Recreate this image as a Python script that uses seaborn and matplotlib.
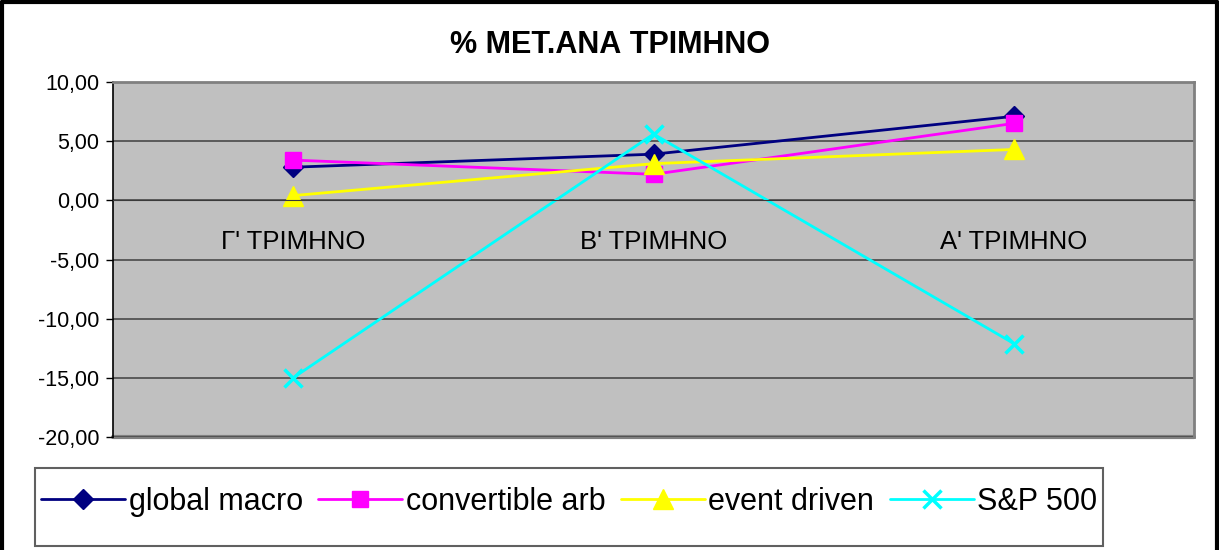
import pandas as pd
import matplotlib
matplotlib.use("Agg")
import matplotlib.pyplot as plt
import seaborn as sns
from matplotlib.lines import Line2D
from matplotlib.patches import Rectangle
from matplotlib.ticker import FuncFormatter, FixedLocator

# data
quarters = ["Γ' ΤΡΙΜΗΝΟ", "Β' ΤΡΙΜΗΝΟ", "Α' ΤΡΙΜΗΝΟ"]
series_names = ["global macro", "convertible arb", "event driven", "S&P 500"]
global_macro = [2.8, 3.9, 7.1]
convertible_arb = [3.4, 2.2, 6.5]
event_driven = [0.4, 3.1, 4.3]
sp500 = [-15.0, 5.6, -12.1]

colors = ["#000080", "#FF00FF", "#FFFF00", "#00FFFF"]
markers = ["D", "s", "^", "x"]

df = pd.DataFrame({
    "Quarter": quarters * 4,
    "Series": [n for n in series_names for _ in quarters],
    "Value": global_macro + convertible_arb + event_driven + sp500,
})

sns.set_style("white")
plt.rcParams["font.family"] = ["Liberation Sans", "DejaVu Sans"]
plt.rcParams["text.color"] = "black"
plt.rcParams["xtick.color"] = "black"
plt.rcParams["ytick.color"] = "black"

fig = plt.figure(figsize=(12.19, 5.5), dpi=100)
ax = fig.add_axes([113 / 1219, 1 - 437 / 550, (1194 - 113) / 1219, (437 - 82) / 550])
ax.set_facecolor("#C0C0C0")

sns.lineplot(data=df, x="Quarter", y="Value", hue="Series",
             palette=colors, marker="o", sort=False,
             linewidth=2, legend=False, ax=ax)

# Excel-like markers per series (seaborn won't mix filled and line markers)
sizes = [10, 11, 14, 13]
for line, c, m, s in zip(ax.lines[:4], colors, markers, sizes):
    line.set_marker(m)
    line.set_markersize(s)
    line.set_markeredgecolor(c)
    line.set_markerfacecolor(c)
    line.set_markeredgewidth(2.5 if m == "x" else 1)

ax.set_xlim(-0.5, 2.5)
ax.set_ylim(-20, 10)
ax.set_yticks(range(-20, 11, 5))
ax.yaxis.set_major_formatter(FuncFormatter(lambda v, p: f"{v:.2f}".replace(".", ",")))
ax.grid(axis="y", color="#4a4a4a", linewidth=1.2)
ax.set_axisbelow(True)
ax.set_xlabel("")
ax.set_ylabel("")

# category axis crosses at zero, as in Excel
ax.spines["bottom"].set_position(("data", 0))
ax.spines["bottom"].set_color("#3a3a3a")
ax.spines["left"].set_color("black")
ax.spines["left"].set_linewidth(1.2)
for side in ["top", "right"]:
    ax.spines[side].set_color("#808080")
    ax.spines[side].set_linewidth(2)
ax.axhline(-20, color="#808080", linewidth=3, clip_on=False, zorder=0.5)

ax.xaxis.set_minor_locator(FixedLocator([-0.5, 0.5, 1.5, 2.5]))
ax.tick_params(axis="x", which="major", length=0, pad=21, labelsize=18.5)
ax.tick_params(axis="x", which="minor", length=6, width=1, color="black", direction="out")
ax.tick_params(axis="y", length=5, width=1, color="black", direction="out", pad=5,
               labelsize=15.5, left=True)

fig.text(0.5, 1 - 45 / 550, "% ΜΕΤ.ΑΝΑ ΤΡΙΜΗΝΟ", ha="center", va="center",
         fontsize=22, fontweight="bold")

leg = fig.legend(ax.lines[:4], series_names, loc="center left",
                 bbox_to_anchor=(41 / 1219, 1 - 502 / 550), ncol=4, fontsize=22,
                 frameon=False, handlelength=2.75, handletextpad=0.12,
                 columnspacing=0.5, borderpad=0, borderaxespad=0)

# legend box drawn separately so it can be wider than tall, like Excel's
fig.add_artist(Rectangle((35 / 1219, 1 - 546 / 550), (1103 - 35) / 1219, 78 / 550,
                         transform=fig.transFigure, fill=False,
                         edgecolor="#606060", linewidth=1.5))

# outer chart border (left, top, right)
for xs, ys in [([0.002, 0.002], [0, 0.997]), ([0.002, 0.998], [0.997, 0.997]),
               ([0.998, 0.998], [0.997, 0])]:
    fig.add_artist(Line2D(xs, ys, color="black", linewidth=3, transform=fig.transFigure))

fig.savefig("out.png", dpi=100)
